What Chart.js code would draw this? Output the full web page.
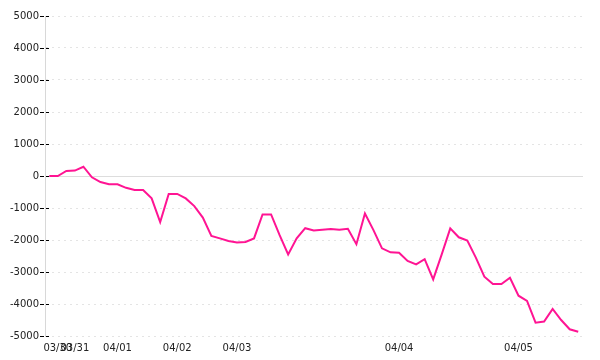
<!DOCTYPE html>
<html>
<head>
<meta charset="utf-8">
<script src="https://cdn.jsdelivr.net/npm/chart.js@4/dist/chart.umd.min.js"></script>
<style>
  html, body { margin: 0; padding: 0; background: #fff; }
  #wrap { width: 600px; height: 360px; }
</style>
</head>
<body>
<div id="wrap"><canvas id="chart" width="600" height="360"></canvas></div>
<script>
// series values, one per sample
const values = [
    0, 0, 160, 170, 290, -40, -190, -260, -260, -370,
    -435, -435, -700, -1440, -560, -560, -700, -940, -1300, -1870,
    -1950, -2030, -2080, -2060, -1950, -1200, -1200, -1850, -2450, -1950,
    -1630, -1700, -1680, -1660, -1680, -1650, -2130, -1170, -1690, -2260,
    -2385, -2400, -2655, -2760, -2600, -3230, -2450, -1635, -1915, -2020,
    -2550, -3145, -3375, -3375, -3180, -3740, -3905, -4585, -4550, -4155,
    -4500, -4790, -4865
];

// day labels and the sample where each one sits
const dayTicks = [1, 3, 8, 15, 22, 41, 55];
const dayNames = ["03/30", "03/31", "04/01", "04/02", "04/03", "04/04", "04/05"];

const yTicks = [-5000, -4000, -3000, -2000, -1000, 0, 1000, 2000, 3000, 4000, 5000];

const points = values.map((v, i) => ({ x: i, y: v }));

// solid zero line under the series, and dashed black tick marks across the y axis
const axisMarks = {
    id: "axisMarks",
    beforeDatasetsDraw(chart) {
        const { ctx, chartArea, scales } = chart;
        const y0 = Math.round(scales.y.getPixelForValue(0)) + 0.5;
        ctx.save();
        ctx.strokeStyle = "#dddddd";
        ctx.lineWidth = 1;
        ctx.beginPath();
        ctx.moveTo(chartArea.left, y0);
        ctx.lineTo(chartArea.right, y0);
        ctx.stroke();

        ctx.strokeStyle = "#000";
        ctx.setLineDash([4, 2]);
        yTicks.forEach(v => {
            const y = Math.round(scales.y.getPixelForValue(v)) + 0.5;
            ctx.beginPath();
            ctx.moveTo(chartArea.left - 5, y);
            ctx.lineTo(chartArea.left + 4, y);
            ctx.stroke();
        });
        ctx.restore();
    }
};

const font = { family: "DejaVu Sans", size: 10 };

new Chart(document.getElementById("chart"), {
    type: "line",
    data: {
        datasets: [{
            data: points,
            borderColor: "#ff1493",
            borderWidth: 2,
            pointRadius: 0,
            tension: 0,
            fill: false
        }]
    },
    options: {
        responsive: false,
        animation: false,
        layout: { padding: { top: 16, right: 17, bottom: 0, left: 0 } },
        plugins: { legend: { display: false }, tooltip: { enabled: false } },
        scales: {
            x: {
                type: "linear",
                min: -0.5,
                max: 62.56,
                afterBuildTicks: scale => { scale.ticks = dayTicks.map(v => ({ value: v })); },
                afterFit: scale => { scale.height = 24; },
                grid: { display: false, drawTicks: false },
                border: { display: false },
                ticks: {
                    autoSkip: false,
                    maxRotation: 0,
                    padding: 6,
                    color: "#222",
                    font: font,
                    callback: v => dayNames[dayTicks.indexOf(v)]
                }
            },
            y: {
                min: -5000,
                max: 5000,
                afterBuildTicks: scale => { scale.ticks = yTicks.map(v => ({ value: v })); },
                afterFit: scale => { scale.width = 45; },
                grid: {
                    color: "#e4e4e4",
                    drawTicks: false
                },
                border: { display: true, color: "#d8d8d8", dash: [2, 4] },
                ticks: {
                    padding: 6,
                    color: "#222",
                    font: font,
                    callback: v => String(v)
                }
            }
        }
    },
    plugins: [axisMarks]
});
</script>
</body>
</html>
